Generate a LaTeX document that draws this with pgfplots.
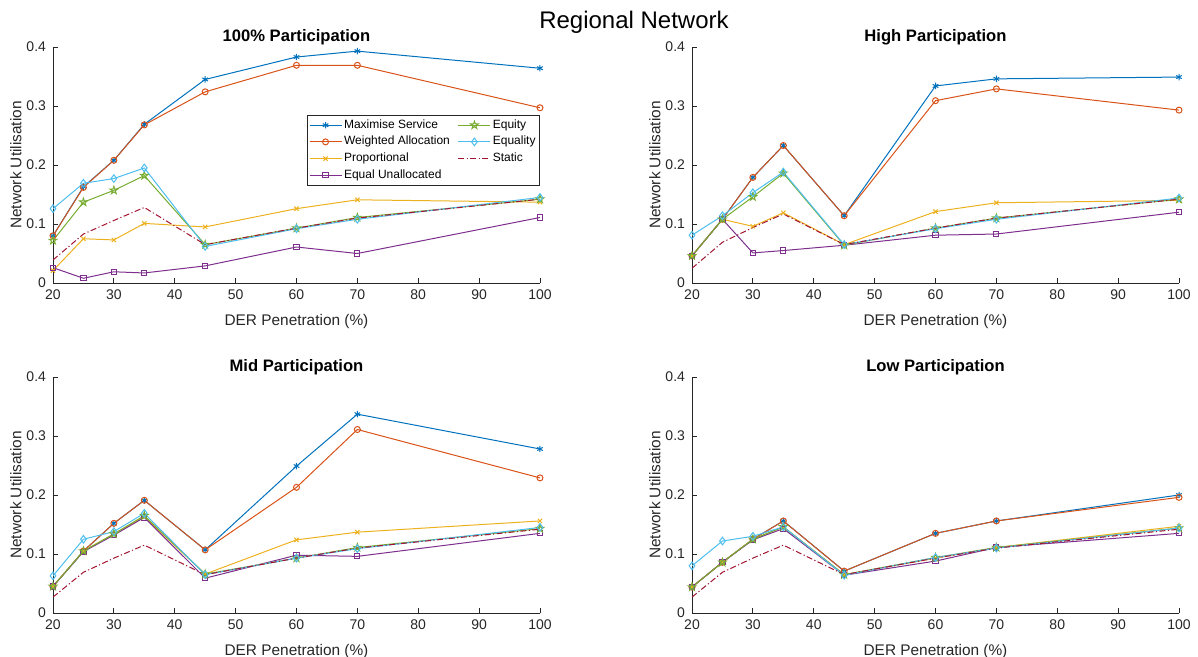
\documentclass[border=0pt]{standalone}
\usepackage{fontspec}
\setmainfont{Liberation Sans}
\usepackage{pgfplots}
\pgfplotsset{compat=1.18}
\usepackage{pgfplotstable}
\usetikzlibrary{plotmarks}

\definecolor{mblue}{rgb}{0,0.447,0.741}
\definecolor{morange}{rgb}{0.850,0.325,0.098}
\definecolor{myellow}{rgb}{0.929,0.694,0.125}
\definecolor{mpurple}{rgb}{0.494,0.184,0.556}
\definecolor{mgreen}{rgb}{0.466,0.674,0.188}
\definecolor{mcyan}{rgb}{0.301,0.745,0.933}
\definecolor{mred}{rgb}{0.635,0.078,0.184}
\definecolor{axgray}{rgb}{0.15,0.15,0.15}

\pgfdeclareplotmark{pentagram}{%
  \pgfpathmoveto{\pgfpointpolar{90}{\pgfplotmarksize}}%
  \pgfpathlineto{\pgfpointpolar{126}{0.382\pgfplotmarksize}}%
  \pgfpathlineto{\pgfpointpolar{162}{\pgfplotmarksize}}%
  \pgfpathlineto{\pgfpointpolar{198}{0.382\pgfplotmarksize}}%
  \pgfpathlineto{\pgfpointpolar{234}{\pgfplotmarksize}}%
  \pgfpathlineto{\pgfpointpolar{270}{0.382\pgfplotmarksize}}%
  \pgfpathlineto{\pgfpointpolar{306}{\pgfplotmarksize}}%
  \pgfpathlineto{\pgfpointpolar{342}{0.382\pgfplotmarksize}}%
  \pgfpathlineto{\pgfpointpolar{18}{\pgfplotmarksize}}%
  \pgfpathlineto{\pgfpointpolar{54}{0.382\pgfplotmarksize}}%
  \pgfpathclose
  \pgfusepathqstroke
}

% columns: x ms wa pr eu eq el st
\pgfplotstableread{
x ms wa pr eu eq el st
20 0.080 0.080 0.021 0.026 0.072 0.126 0.039
25 0.163 0.162 0.075 0.008 0.137 0.169 0.083
30 0.208 0.208 0.073 0.019 0.157 0.177 0.106
35 0.269 0.268 0.101 0.017 0.182 0.195 0.128
45 0.345 0.324 0.095 0.029 0.065 0.062 0.065
60 0.383 0.369 0.126 0.061 0.093 0.092 0.093
70 0.393 0.369 0.141 0.050 0.111 0.108 0.110
100 0.364 0.297 0.137 0.111 0.142 0.145 0.142
}\tabA
\pgfplotstableread{
x ms wa pr eu eq el st
20 0.046 0.046 0.046 0.046 0.046 0.081 0.025
25 0.108 0.108 0.108 0.108 0.108 0.114 0.069
30 0.179 0.179 0.096 0.051 0.146 0.153 0.094
35 0.233 0.233 0.119 0.055 0.186 0.188 0.117
45 0.114 0.114 0.065 0.064 0.064 0.065 0.065
60 0.334 0.309 0.121 0.081 0.093 0.092 0.093
70 0.346 0.329 0.136 0.083 0.110 0.108 0.110
100 0.349 0.293 0.140 0.120 0.142 0.144 0.142
}\tabB
\pgfplotstableread{
x ms wa pr eu eq el st
20 0.045 0.045 0.045 0.045 0.045 0.063 0.027
25 0.105 0.105 0.105 0.104 0.105 0.125 0.069
30 0.152 0.152 0.134 0.132 0.134 0.138 0.093
35 0.191 0.191 0.163 0.162 0.165 0.169 0.115
45 0.107 0.107 0.066 0.059 0.066 0.065 0.065
60 0.249 0.213 0.124 0.098 0.093 0.093 0.093
70 0.337 0.311 0.137 0.096 0.111 0.109 0.110
100 0.278 0.229 0.156 0.135 0.143 0.145 0.142
}\tabC
\pgfplotstableread{
x ms wa pr eu eq el st
20 0.044 0.044 0.044 0.044 0.044 0.080 0.027
25 0.086 0.086 0.086 0.086 0.086 0.122 0.069
30 0.125 0.125 0.125 0.124 0.125 0.130 0.093
35 0.156 0.156 0.146 0.143 0.146 0.146 0.115
45 0.071 0.071 0.065 0.064 0.065 0.064 0.065
60 0.135 0.135 0.093 0.088 0.094 0.094 0.093
70 0.156 0.156 0.111 0.111 0.111 0.110 0.110
100 0.200 0.196 0.147 0.135 0.144 0.144 0.142
}\tabD

\pgfplotsset{
  sMS/.style={mblue, line width=0.5pt, mark=asterisk, mark size=1.6pt},
  sWA/.style={morange, line width=0.5pt, mark=o, mark size=1.5pt},
  sPR/.style={myellow, line width=0.5pt, mark=x, mark size=1.5pt},
  sEU/.style={mpurple, line width=0.5pt, mark=square, mark size=1.3pt},
  sEQ/.style={mgreen, line width=0.5pt, mark=pentagram, mark size=2pt},
  sEL/.style={mcyan, line width=0.5pt, mark=diamond, mark size=1.9pt},
  sST/.style={mred, line width=0.5pt, dash pattern=on 3pt off 1.2pt on 0.6pt off 1.2pt},
  myaxis/.style={
    scale only axis, width=243.5pt, height=118pt,
    xmin=20, xmax=100, ymin=0, ymax=0.4,
    axis lines*=left, axis line style={axgray, line width=0.4pt},
    tick align=inside, major tick length=2.5pt,
    tick style={axgray, line width=0.4pt},
    xtick={20,30,...,100}, ytick={0,0.1,0.2,0.3,0.4},
    yticklabel style={/pgf/number format/fixed},
    /pgf/number format/assume math mode=true,
    ticklabel style={font=\fontsize{7}{8}\selectfont, text=axgray},
    xlabel={DER Penetration (\%)}, ylabel={Network Utilisation},
    label style={font=\fontsize{7.7}{9}\selectfont, text=axgray},
    xlabel style={at={(axis description cs:0.5,-0.104)}, anchor=north},
    ylabel style={at={(axis description cs:-0.05,0.5)}, anchor=south},
    title style={font=\bfseries\fontsize{8.3}{9}\selectfont, at={(axis description cs:0.5,1)}, anchor=south, yshift=-8.5pt},
    mark options={solid},
  },
}

\newcommand\plotall[2]{%
  \addplot[sMS, #2] table[x=x,y=ms]{#1};
  \addplot[sWA, #2] table[x=x,y=wa]{#1};
  \addplot[sPR, #2] table[x=x,y=pr]{#1};
  \addplot[sEU, #2] table[x=x,y=eu]{#1};
  \addplot[sEQ, #2] table[x=x,y=eq]{#1};
  \addplot[sEL, #2] table[x=x,y=el]{#1};
  \addplot[sST, #2] table[x=x,y=st]{#1};
}

\begin{document}
\begin{tikzpicture}
\useasboundingbox (0,0) rectangle (599pt,-328.5pt);
\node[font=\fontsize{12}{14}\selectfont, text=black] at (317pt,-11pt) {Regional Network};

\begin{axis}[myaxis, at={(26.5pt,-23.5pt)}, anchor=north west,
  title={100\% Participation},
  legend columns=2, legend cell align=left,
  legend style={at={(rel axis cs:1,0.712)}, anchor=north east,
    font=\fontsize{6}{7}\selectfont, draw=axgray, line width=0.4pt,
    inner sep=1pt, row sep=0.5pt,
    nodes={inner sep=1pt, text=black},
    /tikz/column 2/.style={column sep=3pt}},
  legend image code/.code={\draw[mark repeat=2,mark phase=2,#1] plot coordinates {(0pt,0pt) (8pt,0pt) (16pt,0pt)};},
]
\plotall{\tabA}{forget plot}
\addlegendimage{sMS}\addlegendentry{Maximise Service}
\addlegendimage{sEQ}\addlegendentry{Equity}
\addlegendimage{sWA}\addlegendentry{Weighted Allocation}
\addlegendimage{sEL}\addlegendentry{Equality}
\addlegendimage{sPR}\addlegendentry{Proportional}
\addlegendimage{sST}\addlegendentry{Static}
\addlegendimage{sEU}\addlegendentry{Equal Unallocated}
\end{axis}

\begin{axis}[myaxis, at={(346pt,-23.5pt)}, anchor=north west,
  title={High Participation}]
\plotall{\tabB}{}
\end{axis}

\begin{axis}[myaxis, at={(26.5pt,-188.5pt)}, anchor=north west,
  title={Mid Participation}]
\plotall{\tabC}{}
\end{axis}

\begin{axis}[myaxis, at={(346pt,-188.5pt)}, anchor=north west,
  title={Low Participation}]
\plotall{\tabD}{}
\end{axis}
\end{tikzpicture}
\end{document}
